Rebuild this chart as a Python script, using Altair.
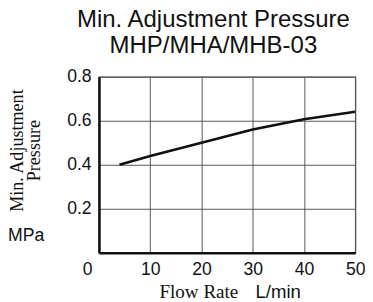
import altair as alt
import pandas as pd

flow = [4, 10, 20, 30, 40, 50]
pressure = [0.40, 0.44, 0.50, 0.56, 0.607, 0.641]
x_ticks = [0, 10, 20, 30, 40, 50]
y_ticks = [0.2, 0.4, 0.6, 0.8]
title_lines = ["Min. Adjustment Pressure", "MHP/MHA/MHB-03"]
y_title = ["Min. Adjustment", "Pressure"]
x_title = "Flow Rate"
x_unit = ["L/min"]
y_unit = ["MPa"]

df = pd.DataFrame({"flow": flow, "pressure": pressure})

SANS = "Liberation Sans"
SERIF = "Liberation Serif"

line = alt.Chart(df).mark_line(color="#111", strokeWidth=2.6).encode(
    x=alt.X(
        "flow:Q",
        scale=alt.Scale(domain=[0, 50], nice=False, zero=True),
        axis=alt.Axis(
            values=x_ticks,
            title=x_title,
            titleFont=SERIF,
            titleFontSize=19.5,
            titleFontWeight="normal",
            titleColor="#111",
            titleX=142,
            titleY=46,
            titleAlign="right",
            titleBaseline="alphabetic",
            labelFont=SANS,
            labelFontSize=18,
            labelColor="#111",
            labelPadding=8,
            labelOverlap=False,
            labelFlush=False,
            labelOffset={"condition": {"test": "datum.value == 0", "value": -12}, "value": 0},
            ticks=False,
            domainColor="#111",
            domainWidth=2.6,
            grid=True,
            gridColor="#555",
            gridWidth=1,
        ),
    ),
    y=alt.Y(
        "pressure:Q",
        scale=alt.Scale(domain=[0, 0.8], nice=False),
        axis=alt.Axis(
            values=y_ticks,
            format=".1f",
            title=y_title,
            titleFont=SERIF,
            titleFontSize=18.5,
            titleFontWeight="normal",
            titleColor="#111",
            titleAngle=270,
            titleX=-84,
            titleY=75,
            titleAlign="center",
            titleBaseline="middle",
            titleLineHeight=17,
            labelFont=SANS,
            labelFontSize=18,
            labelColor="#111",
            labelPadding=8,
            labelOverlap=False,
            labelFlush=False,
            ticks=False,
            domainColor="#111",
            domainWidth=2.6,
            grid=True,
            gridColor="#555",
            gridWidth=1,
        ),
    ),
)

mpa = alt.Chart(pd.DataFrame({"t": y_unit})).mark_text(
    align="left", baseline="alphabetic", font=SANS, fontSize=18, color="#111"
).encode(x=alt.value(-93), y=alt.value(168), text="t:N")

lmin = alt.Chart(pd.DataFrame({"t": x_unit})).mark_text(
    align="left", baseline="alphabetic", font=SANS, fontSize=19, color="#111"
).encode(x=alt.value(160), y=alt.value(226), text="t:N")

chart = (
    alt.layer(line, mpa, lmin)
    .properties(
        width=262,
        height=180,
        autosize=alt.AutoSizeParams(type="none"),
        padding={"left": 93, "top": 67, "right": 10, "bottom": 47},
        title=alt.TitleParams(
            title_lines,
            font=SANS,
            fontSize=24.5,
            fontWeight="normal",
            color="#111",
            anchor="middle",
            dx=-14,
            dy=30,
            lineHeight=26,
            baseline="bottom",
            offset=16,
        ),
    )
    .configure_view(stroke="#555", strokeWidth=1.2)
)

chart.save("out.html", embed_options={"renderer": "svg", "actions": False})
